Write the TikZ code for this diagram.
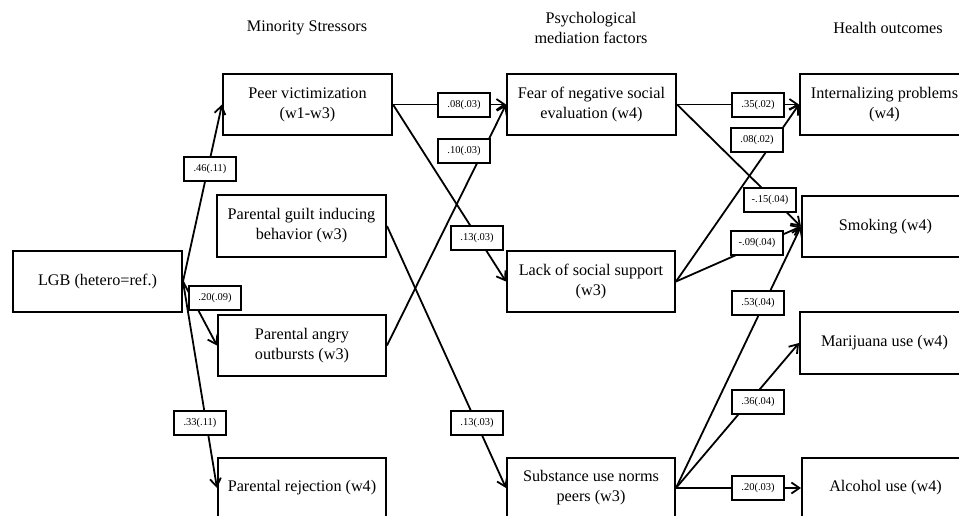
\documentclass[tikz,border=0pt]{standalone}
\usepackage{fontspec}
\setmainfont{Liberation Serif}
\usetikzlibrary{arrows.meta}
\begin{document}
\begin{tikzpicture}[x=1pt,y=-1pt,
  box/.style={draw, line width=2pt, inner sep=0pt, align=center,
    font=\fontsize{16.2}{20}\selectfont},
  lbl/.style={draw, fill=white, line width=1.8pt, inner sep=0pt,
    minimum width=52pt, minimum height=24pt, font=\fontsize{10.5}{12}\selectfont},
  hdr/.style={align=center, inner sep=0pt, font=\fontsize{16.2}{20}\selectfont},
  edge/.style={line width=1.8pt, -{Straight Barb[length=8pt,width=11pt,line width=1.8pt]}}
]
\useasboundingbox (0,0) rectangle (959,516);
\clip (0,0) rectangle (959,516);

% headers
\node[hdr] (h1) at (307,28) {Minority Stressors};
\node[hdr] (h2) at (591,28) {Psychological\\mediation factors};
\node[hdr] (h3) at (888,28) {Health outcomes};

% boxes
\node[box, minimum width=169pt, minimum height=61pt] (lgb) at (97.5,281.5) {LGB (hetero=ref.)};
\node[box, minimum width=169pt, minimum height=61pt] (peer) at (307.5,104.5) {Peer victimization\\(w1-w3)};
\node[box, minimum width=169pt, minimum height=62pt] (guilt) at (301.5,226) {Parental guilt inducing\\behavior (w3)};
\node[box, minimum width=168pt, minimum height=61pt] (angry) at (302,345.5) {Parental angry\\outbursts (w3)};
\node[box, minimum width=168pt, minimum height=60pt] (rej) at (302,488) {Parental rejection (w4)};
\node[box, minimum width=169pt, minimum height=61pt] (fear) at (591.5,104.5) {Fear of negative social\\evaluation (w4)};
\node[box, minimum width=168pt, minimum height=61pt] (lack) at (591,281.5) {Lack of social support\\(w3)};
\node[box, minimum width=168pt, minimum height=60pt] (subst) at (591,488) {Substance use norms\\peers (w3)};
\node[box, minimum width=169pt, minimum height=61pt] (intl) at (884.5,104.5) {Internalizing problems\\(w4)};
\node[box, minimum width=167pt, minimum height=61pt] (smok) at (885.5,226.5) {Smoking (w4)};
\node[box, minimum width=169pt, minimum height=62pt] (mari) at (884.5,343) {Marijuana use (w4)};
\node[box, minimum width=167pt, minimum height=60pt] (alc) at (885.5,488) {Alcohol use (w4)};

% edges
\draw[edge] (lgb.east) -- (peer.west);
\draw[edge] (lgb.east) -- (angry.west);
\draw[edge] (lgb.east) -- (rej.west);
\draw[edge] (peer.east) -- (fear.west);
\draw[edge] (peer.east) -- (lack.west);
\draw[edge] (angry.east) -- (fear.west);
\draw[edge] (guilt.east) -- (subst.west);
\draw[edge] (fear.east) -- (intl.west);
\draw[edge] (fear.east) -- (smok.west);
\draw[edge] (lack.east) -- (intl.west);
\draw[edge] (lack.east) -- (smok.west);
\draw[edge] (subst.east) -- (smok.west);
\draw[edge] (subst.east) -- (mari.west);
\draw[edge] (subst.east) -- (alc.west);

% labels
\node[lbl] (l1) at (210,169) {.46(.11)};
\node[lbl] (l2) at (215,298) {.20(.09)};
\node[lbl] (l3) at (200,423) {.33(.11)};
\node[lbl] (l4) at (464,105) {.08(.03)};
\node[lbl] (l5) at (464,151) {.10(.03)};
\node[lbl] (l6) at (477,238) {.13(.03)};
\node[lbl] (l7) at (477,423) {.13(.03)};
\node[lbl] (l8) at (758,105) {.35(.02)};
\node[lbl] (l9) at (757,140) {.08(.02)};
\node[lbl] (l10) at (770,200) {-.15(.04)};
\node[lbl] (l11) at (757,243) {-.09(.04)};
\node[lbl] (l12) at (758,303) {.53(.04)};
\node[lbl] (l13) at (758,402) {.36(.04)};
\node[lbl] (l14) at (758,488) {.20(.03)};
\end{tikzpicture}
\end{document}
